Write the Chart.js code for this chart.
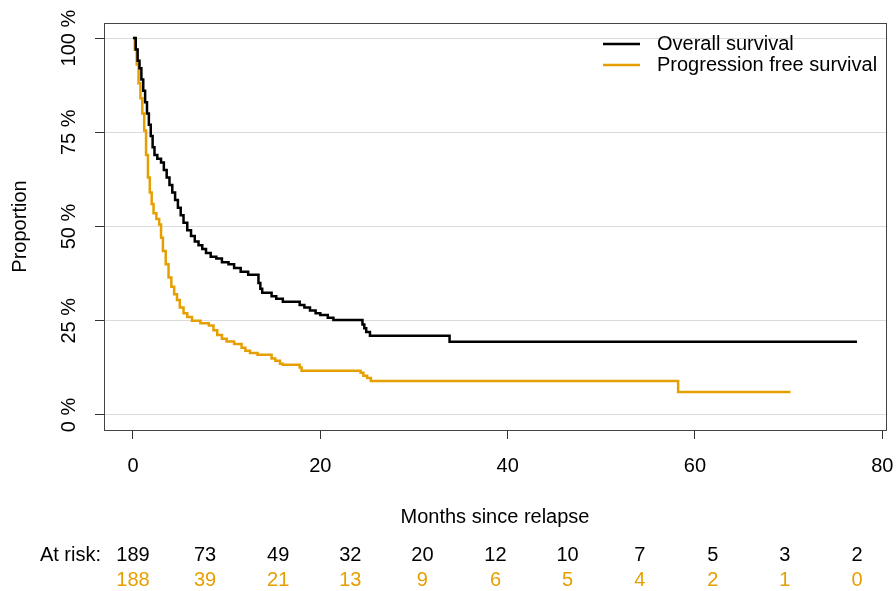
<!DOCTYPE html>
<html>
<head>
<meta charset="utf-8">
<script src="https://cdn.jsdelivr.net/npm/chart.js@4"></script>
<style>
  body { margin: 0; background: #fff; }
  #wrap { width: 896px; height: 591px; }
</style>
</head>
<body>
<div id="wrap"><canvas id="myChart" width="896" height="591"></canvas></div>
<script>
const ctx = document.getElementById('myChart').getContext('2d');

// Kaplan-Meier steps (months, % surviving)
const osTime = [0, 0.3, 0.5, 0.7, 0.9, 1.1, 1.3, 1.5, 1.7, 1.9, 2.1, 2.3, 2.6, 3.0, 3.3, 3.6, 3.9, 4.2, 4.5, 4.8, 5.1, 5.4, 5.8, 6.2, 6.6, 7.0, 7.4, 7.8, 8.3, 8.9, 9.5, 10.2, 10.8, 11.5, 12.3, 13.4, 13.6, 13.8, 14.8, 15.3, 16.0, 17.8, 18.3, 18.9, 19.5, 20.0, 20.8, 21.4, 24.5, 24.7, 24.9, 25.3, 33.8, 77.3];
const osSurv = [100, 97, 94, 92, 89, 86, 83, 80, 77, 74, 71, 69, 68, 67, 65, 63, 61, 59, 57, 55, 53, 51, 49, 47.5, 46, 45, 44, 43, 42, 41.5, 40.5, 40, 39, 38, 37.2, 35, 33.5, 32.4, 31.5, 30.8, 30.0, 29.2, 28.5, 27.7, 27.0, 26.5, 25.8, 25.2, 24.0, 23.0, 22.0, 21.0, 19.4, 19.4];

const pfsTime = [0, 0.2, 0.4, 0.6, 0.8, 1.0, 1.2, 1.4, 1.6, 1.8, 2.0, 2.2, 2.5, 2.8, 3.0, 3.2, 3.5, 3.8, 4.1, 4.4, 4.7, 5.0, 5.4, 5.8, 6.3, 7.2, 8.1, 8.6, 9.0, 9.5, 10.0, 10.8, 11.6, 12.0, 12.5, 13.3, 14.8, 15.2, 15.7, 16.0, 17.8, 18.0, 24.3, 24.6, 25.0, 25.4, 58.2, 70.2];
const pfsSurv = [100, 97, 93, 88, 84, 80, 75.5, 69, 63, 59, 56, 53.5, 52, 50.5, 47, 43.5, 40, 36.5, 34, 32, 30.5, 28.5, 27, 26, 25, 24.3, 23.7, 22.5, 21.2, 20.2, 19.5, 18.8, 17.8, 17.0, 16.4, 16.0, 15.0, 14.4, 13.6, 13.3, 12.6, 11.7, 11.2, 10.4, 9.8, 9.0, 6.1, 6.1];

// numbers at risk table
const riskTimes = [0, 7.7, 15.5, 23.2, 30.9, 38.7, 46.4, 54.1, 61.9, 69.6, 77.3];
const riskOS = [189, 73, 49, 32, 20, 12, 10, 7, 5, 3, 2];
const riskPFS = [188, 39, 21, 13, 9, 6, 5, 4, 2, 1, 0];

const xTicks = [0, 20, 40, 60, 80];
const xTickLabels = ['0', '20', '40', '60', '80'];
const yTicks = [0, 25, 50, 75, 100];
const yTickLabels = ['0 %', '25 %', '50 %', '75 %', '100 %'];

const seriesNames = ['Overall survival', 'Progression free survival'];
const colors = ['#000000', '#E69F00'];
const FONT = '"Liberation Sans", Arial, sans-serif';

function pts(t, s) {
  return t.map((v, i) => ({x: v, y: s[i]}));
}

// extra R-style bits: box, tick labels, titles, legend, at risk table
const extras = {
  id: 'extras',
  afterDraw(chart) {
    const c = chart.ctx;
    const a = chart.chartArea;
    const x = chart.scales.x, y = chart.scales.y;
    c.save();
    c.strokeStyle = '#444';
    c.lineWidth = 1;
    c.strokeRect(Math.round(a.left) + 0.5, Math.round(a.top) + 0.5,
      Math.round(a.right - a.left), Math.round(a.bottom - a.top));

    c.font = '20px ' + FONT;
    c.fillStyle = '#000';
    c.textAlign = 'center';
    c.textBaseline = 'middle';

    xTicks.forEach((v, i) => {
      c.fillText(xTickLabels[i], x.getPixelForValue(v), 466);
    });

    yTicks.forEach((v, i) => {
      c.save();
      c.translate(69, y.getPixelForValue(v));
      c.rotate(-Math.PI / 2);
      c.fillText(yTickLabels[i], 0, 0);
      c.restore();
    });

    c.save();
    c.translate(20, (a.top + a.bottom) / 2);
    c.rotate(-Math.PI / 2);
    c.fillText('Proportion', 0, 0);
    c.restore();

    c.fillText('Months since relapse', (a.left + a.right) / 2, 517);

    // legend
    c.lineWidth = 2.5;
    seriesNames.forEach((n, i) => {
      const ly = 44 + i * 21;
      c.strokeStyle = colors[i];
      c.beginPath();
      c.moveTo(603, ly);
      c.lineTo(640, ly);
      c.stroke();
      c.textAlign = 'left';
      c.fillStyle = '#000';
      c.fillText(n, 657, ly);
    });

    // at risk
    c.textAlign = 'right';
    c.fillStyle = '#000';
    c.fillText('At risk:', 101, 555);
    c.textAlign = 'center';
    riskTimes.forEach((t, i) => {
      const px = x.getPixelForValue(t);
      c.fillStyle = colors[0];
      c.fillText(String(riskOS[i]), px, 555);
      c.fillStyle = colors[1];
      c.fillText(String(riskPFS[i]), px, 580);
    });
    c.restore();
  }
};

const myChart = new Chart(ctx, {
  type: 'line',
  data: {
    datasets: [
      {
        label: seriesNames[0],
        data: pts(osTime, osSurv),
        borderColor: colors[0],
        borderWidth: 2.5,
        stepped: 'before',
        pointRadius: 0,
        fill: false
      },
      {
        label: seriesNames[1],
        data: pts(pfsTime, pfsSurv),
        borderColor: colors[1],
        borderWidth: 2.5,
        stepped: 'before',
        pointRadius: 0,
        fill: false
      }
    ]
  },
  options: {
    responsive: false,
    animation: false,
    devicePixelRatio: 1,
    layout: { padding: { top: 23, right: 10, left: 0, bottom: 0 } },
    plugins: {
      legend: { display: false },
      tooltip: { enabled: false }
    },
    scales: {
      x: {
        type: 'linear',
        min: -3.09,
        max: 80.39,
        afterBuildTicks: s => { s.ticks = xTicks.map(v => ({value: v})); },
        afterFit: s => { s.height = 161; },
        ticks: { display: false },
        grid: {
          drawOnChartArea: false,
          drawTicks: true,
          tickLength: 9,
          tickColor: '#333'
        },
        border: { display: false }
      },
      y: {
        type: 'linear',
        min: -4,
        max: 104,
        afterBuildTicks: s => { s.ticks = yTicks.map(v => ({value: v})); },
        afterFit: s => { s.width = 104; },
        ticks: { display: false },
        grid: {
          color: '#dadada',
          lineWidth: 1,
          drawTicks: true,
          tickLength: 9,
          tickColor: '#333'
        },
        border: { display: false }
      }
    }
  },
  plugins: [extras]
});
</script>
</body>
</html>
